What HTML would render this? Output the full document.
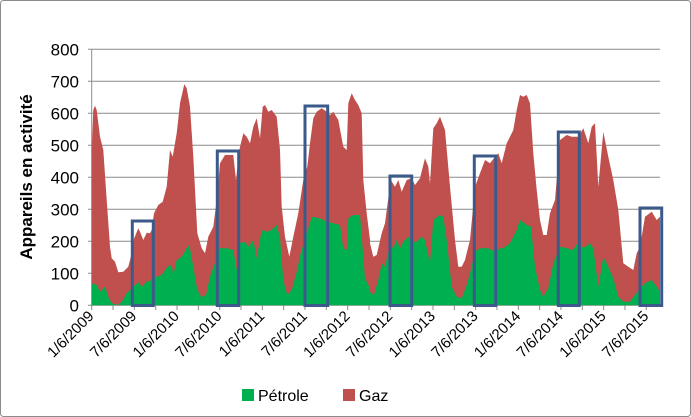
<!DOCTYPE html>
<html><head><meta charset="utf-8"><style>
html,body{margin:0;padding:0;background:#fff;}
svg{display:block;font-family:"Liberation Sans",sans-serif;}
</style></head><body>
<svg id="s" width="691" height="417" xmlns="http://www.w3.org/2000/svg">
<rect x="0.5" y="0.5" width="690" height="416" rx="3" fill="#fff" stroke="#8c8c8c"/>
<g id="grid" stroke="#8c8c8c" stroke-width="1"></g>
<g id="areas"></g>
<g id="boxes" fill="none" stroke="#3b5a8a" stroke-width="3"></g>
<g id="labels" font-size="17" fill="#000"></g>
<text transform="translate(32,177) rotate(-90)" text-anchor="middle" font-size="17" font-weight="bold">Appareils en activité</text>
<rect x="242" y="389" width="12" height="12" fill="#00b050"/>
<text x="258" y="401" font-size="16">Pétrole</text>
<rect x="343" y="389" width="12" height="12" fill="#c0504d"/>
<text x="359" y="401" font-size="16">Gaz</text>
</svg>
<script>
var NS="http://www.w3.org/2000/svg";
function el(p,t,a,txt){var e=document.createElementNS(NS,t);for(var k in a)e.setAttribute(k,a[k]);if(txt!=null)e.textContent=txt;document.getElementById(p).appendChild(e);return e;}
var y0=305.3,ppu=0.32;
for(var v=0;v<=800;v+=100){var y=y0-v*ppu;el("grid","line",{x1:88,x2:660,y1:y,y2:y});
el("labels","text",{x:79,y:y+6,"text-anchor":"end"},v);}
el("grid","line",{x1:91.7,x2:91.7,y1:49,y2:306});
for(var i=0;i<27;i++){var x=91.7+21.33*i;el("grid","line",{x1:x,x2:x,y1:305,y2:310});}
var names=["1/6/2009","7/6/2009","1/6/2010","7/6/2010","1/6/2011","7/6/2011","1/6/2012","7/6/2012","1/6/2013","7/6/2013","1/6/2014","7/6/2014","1/6/2015","7/6/2015"];
names.forEach(function(n,i){var x=91.7+42.67*i+3,y=317;el("labels","text",{x:x,y:y,"text-anchor":"end","font-size":"15",transform:"rotate(-45 "+x+" "+y+")"},n);});
var r1=[35,330,40,210,45,197,50,210,60,290,70,330,80,480,90,620,95,655,105,665,115,697,130,695,145,680,155,640,162,596,175,565,180,575,190,600,200,578,210,580,215,570,222,520,235,495,248,485,260,440,270,330,278,350,290,280,300,190,313,133,320,145,330,200,340,350,352,580,365,625,375,640,385,590,400,560,410,480,420,370,435,345,460,345,468,420,478,330,490,280,500,290,510,310,520,260,530,235,540,295,548,200,555,195,565,215,575,210,590,230,600,330,605,500,615,590,628,650,640,590,655,520,670,420,682,380,690,310,700,235,710,215,725,205,740,215,750,225,760,215,775,240,790,320,800,330,805,190,815,160,825,180,835,195,845,220,850,420,860,520,870,600];
var r2=[0,610,10,650,20,645,35,580,45,550,62,420,75,440,85,420,95,455,110,420,125,415,135,435,150,415,165,355,175,380,180,430,190,265,200,250,210,230,225,270,240,440,255,600,265,680,275,680,285,660,300,600,315,440,330,400,345,360,360,370,375,350,385,340,395,370,410,310,420,290,430,270,440,210,450,165,460,170,470,165,480,190,490,340,500,450,510,540,520,585,530,585,540,520,555,480,570,300,590,285,605,290,615,290,625,290,640,265,655,310,665,260,675,250,685,440,700,275,715,350,730,420,745,510,760,670,775,680,790,690,800,640,810,620,825,530,845,515,860,540,870,530];
var g1=[35,730,50,735,60,755,75,740,85,770,95,790,115,795,125,785,140,760,160,740,175,727,185,740,200,725,215,720,230,710,245,705,262,680,275,675,280,705,290,660,305,650,320,625,328,615,340,680,352,750,365,772,378,765,390,710,410,655,420,625,440,625,460,630,470,690,478,610,495,605,505,620,520,600,530,655,545,570,560,575,575,570,590,555,600,595,610,720,622,765,635,750,650,695,662,640,680,580,695,530,720,535,740,545,760,550,780,555,790,625,800,630,805,535,820,525,840,525,855,715,870,745];
var g2=[0,755,12,765,25,720,35,670,45,680,60,615,70,625,80,600,90,625,100,605,115,590,125,605,140,605,155,590,165,600,180,670,190,540,210,525,220,530,230,600,245,740,260,770,275,775,290,735,300,700,315,635,330,625,355,625,375,635,390,625,400,625,420,610,440,570,450,540,470,555,483,560,495,680,510,750,520,770,535,745,550,670,570,620,590,625,610,630,625,605,640,625,660,610,670,625,685,740,700,650,715,680,730,715,745,770,760,785,780,785,795,765,810,745,825,730,845,720,860,740,870,755];
function conv(a,ox){var o=[];for(var i=0;i<a.length;i+=2)o.push(((ox+a[i]/3)).toFixed(1)+","+(40+a[i+1]/3).toFixed(1));return o;}
function poly(a,b,col){var pts=conv(a,80).concat(conv(b,370));var first=pts[0].split(",")[0],last=pts[pts.length-1].split(",")[0];
pts.push(last+","+y0);pts.push(first+","+y0);el("areas","polygon",{points:pts.join(" "),fill:col});}
poly(r1,r2,"#c0504d");poly(g1,g2,"#00b050");
[[132.3,221,21,84.5],[217.3,151,21.4,154.5],[305,106,22.7,199.5],[390,176,21.7,129.5],[474.3,156,21.4,149.5],[558.3,132,21,173.5],[640,208,21.7,97.5]].forEach(function(b){el("boxes","rect",{x:b[0],y:b[1],width:b[2],height:b[3]});});
</script>
</body></html>
